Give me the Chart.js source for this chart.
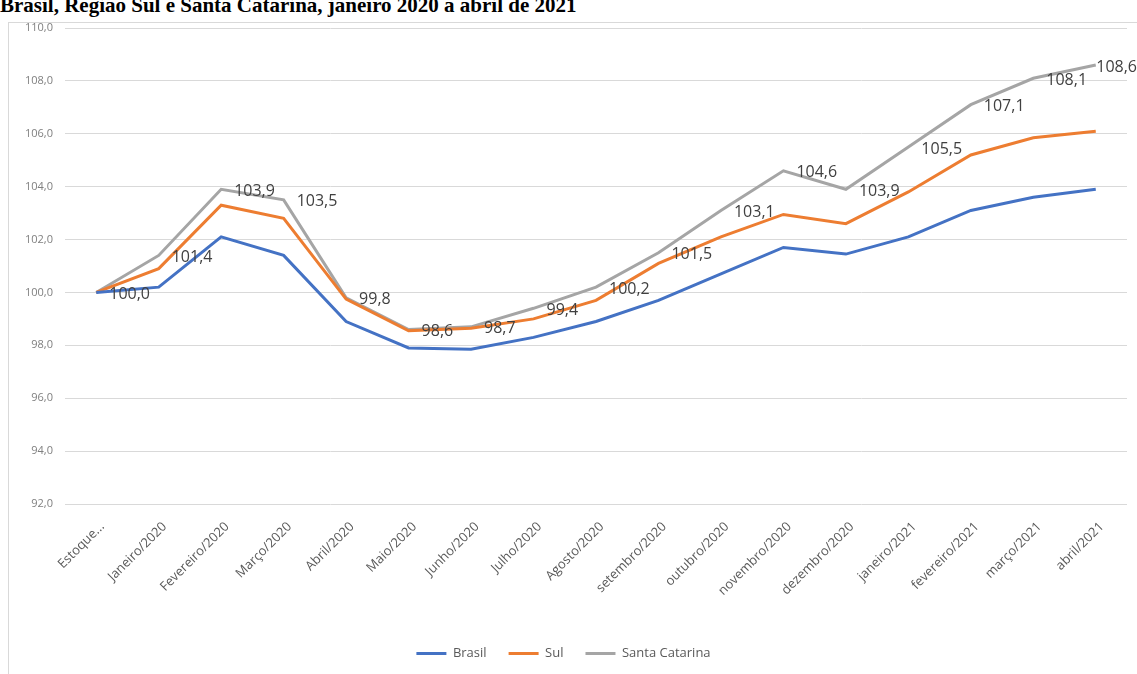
<!DOCTYPE html>
<html lang="pt-BR">
<head>
<meta charset="utf-8">
<title>Brasil, Região Sul e Santa Catarina</title>
<script src="https://cdn.jsdelivr.net/npm/chart.js@4/dist/chart.umd.min.js"></script>
<style>
    body { margin: 0; width: 1137px; height: 674px; overflow: hidden; background: #fff; position: relative; }
    #titulo {
        position: absolute; left: 0; top: -7px; margin: 0;
        font: bold 21px "Liberation Serif", "DejaVu Serif", serif;
        color: #000; white-space: nowrap; line-height: 24px;
    }
    #moldura {
        position: absolute; left: 8px; top: 22px; width: 1200px; height: 700px;
        border: 1px solid #d9d9d9; box-sizing: border-box;
    }
    #grafico { position: absolute; left: 0; top: 0; }
</style>
</head>
<body>
<div id="titulo">Brasil, Região Sul e Santa Catarina, janeiro 2020 a abril de 2021</div>
<div id="moldura"></div>
<canvas id="grafico" width="1137" height="674"></canvas>

<script>
var meses = ['Estoque...', 'Janeiro/2020', 'Fevereiro/2020', 'Março/2020', 'Abril/2020', 'Maio/2020',
    'Junho/2020', 'Julho/2020', 'Agosto/2020', 'setembro/2020', 'outubro/2020', 'novembro/2020',
    'dezembro/2020', 'janeiro/2021', 'fevereiro/2021', 'março/2021', 'abril/2021'];

var brasil = [100.0, 100.2, 102.1, 101.4, 98.9, 97.9, 97.85, 98.3, 98.9, 99.7, 100.7, 101.7,
    101.45, 102.1, 103.1, 103.6, 103.9];
var sul = [100.0, 100.9, 103.3, 102.8, 99.75, 98.55, 98.65, 99.0, 99.7, 101.1, 102.1, 102.95,
    102.6, 103.8, 105.2, 105.85, 106.1];
var santaCatarina = [100.0, 101.4, 103.9, 103.5, 99.8, 98.6, 98.7, 99.4, 100.2, 101.5, 103.1, 104.6,
    103.9, 105.5, 107.1, 108.1, 108.6];

var ticksY = [92, 94, 96, 98, 100, 102, 104, 106, 108, 110];

function formatar(v) {
    return v.toFixed(1).replace('.', ',');
}

// rótulos de dados da série Santa Catarina, à direita de cada ponto
var rotulosPlugin = {
    id: 'rotulos',
    afterDatasetsDraw: function (chart) {
        var ctx = chart.ctx;
        var meta = chart.getDatasetMeta(2);
        ctx.save();
        ctx.font = '16px "Open Sans", sans-serif';
        ctx.fillStyle = '#404040';
        ctx.textAlign = 'left';
        ctx.textBaseline = 'middle';
        for (let i = 0; i < meta.data.length; i++) {
            var p = meta.data[i];
            var txt = formatar(santaCatarina[i]);
            var x = p.x + 13;
            var w = ctx.measureText(txt).width;
            if (x + w > chart.width) {
                x = chart.width - w;
            }
            ctx.fillText(txt, x, p.y + 2);
        }
        ctx.restore();
    }
};

function serie(nome, valores, cor) {
    return {
        label: nome,
        data: valores,
        borderColor: cor,
        backgroundColor: cor,
        pointBorderColor: cor,
        pointBackgroundColor: cor,
        pointBorderWidth: 3
    };
}

var grafico = new Chart(document.getElementById('grafico'), {
    type: 'line',
    data: {
        labels: meses,
        datasets: [
            serie('Brasil', brasil, '#4472C4'),
            serie('Sul', sul, '#ED7D31'),
            serie('Santa Catarina', santaCatarina, '#A5A5A5')
        ]
    },
    options: {
        responsive: false,
        animation: false,
        elements: {
            line: { borderWidth: 3, tension: 0 },
            point: { radius: 0 }
        },
        layout: { padding: { top: 28, right: 10, left: 0, bottom: 4 } },
        plugins: {
            tooltip: { enabled: false },
            legend: {
                position: 'bottom',
                labels: {
                    usePointStyle: true,
                    pointStyle: 'line',
                    pointStyleWidth: 30,
                    padding: 22,
                    color: '#595959',
                    font: { family: 'Open Sans', size: 13 }
                }
            }
        },
        scales: {
            x: {
                offset: true,
                grid: { display: false },
                border: { display: false },
                ticks: {
                    color: '#595959',
                    font: { family: 'Open Sans', size: 13 },
                    minRotation: 45,
                    maxRotation: 45,
                    autoSkip: false,
                    padding: 7,
                    labelOffset: 6
                },
                afterFit: function (s) { s.height = 121; }
            },
            y: {
                min: 92,
                max: 110,
                grid: { color: '#d9d9d9', lineWidth: 1, drawTicks: false },
                border: { display: false },
                ticks: {
                    color: '#7f7f7f',
                    font: { family: 'Open Sans', size: 11 },
                    padding: 12,
                    callback: function (v) { return formatar(v); }
                },
                afterBuildTicks: function (s) {
                    s.ticks = ticksY.map(function (v) { return { value: v }; });
                },
                afterFit: function (s) { s.width = 65; }
            }
        }
    },
    plugins: [rotulosPlugin]
});
</script>
</body>
</html>
